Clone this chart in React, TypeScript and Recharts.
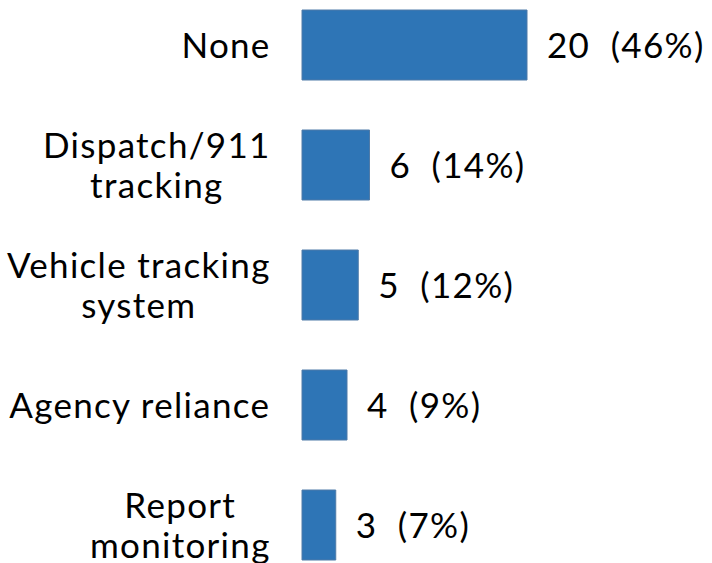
import React from 'react';
import { BarChart, Bar, XAxis, YAxis, LabelList } from 'recharts';

const categories = ['None', 'Dispatch/911\ntracking', 'Vehicle tracking\nsystem', 'Agency reliance', 'Report\nmonitoring'];
const counts = [20, 6, 5, 4, 3];
const percents = ['46%', '14%', '12%', '9%', '7%'];

const data = categories.map((c, i) => ({ name: c, value: counts[i], label: `${counts[i]}  (${percents[i]})` }));

const FONT = 'Lato';
const FS = 35;
const LS = 1.3;
const LINE_H = 40;
const CAP = 12.5;

let ctx: any = null;
function measure(t: string): number {
  if (!ctx) {
    const c = document.createElement('canvas');
    ctx = c.getContext('2d');
  }
  if (!ctx) return t.length * FS * 0.5;
  ctx.font = `${FS}px ${FONT}`;
  const w = ctx.measureText(t).width;
  return w + LS * (t.length - 1);
}

const YTick = (props: any) => {
  const { y, payload } = props;
  const lines: string[] = String(payload.value).split('\n');
  const rightEdge = 270;
  const blockW = Math.max(...lines.map(measure));
  const cx = rightEdge - blockW / 2;
  const first = y - ((lines.length - 1) * LINE_H) / 2 + CAP;
  return (
    <text textAnchor="middle" fontFamily={FONT} fontSize={FS} fill="#000" letterSpacing={LS}>
      {lines.map((l, i) => (
        <tspan key={i} x={cx} y={first + i * LINE_H}>{l}</tspan>
      ))}
    </text>
  );
};

const ValueLabel = (props: any) => {
  const { x, y, width, height, value } = props;
  return (
    <text x={x + width + 20} y={y + height / 2 + CAP} fontFamily={FONT} fontSize={FS} fill="#000" letterSpacing={LS} style={{ whiteSpace: 'pre' }}>
      {value}
    </text>
  );
};

export default function App() {
  return (
    <div style={{ position: 'absolute', left: 0, top: 0, width: 712, height: 563, overflow: 'hidden', background: '#fff' }}>
      <div style={{ position: 'absolute', left: 0, top: -15 }}>
        <BarChart width={712} height={600} data={data} layout="vertical" margin={{ top: 0, right: 5, bottom: 0, left: 0 }} barSize={70}>
          <XAxis type="number" domain={[0, 36]} hide />
          <YAxis type="category" dataKey="name" width={302} axisLine={false} tickLine={false} tick={<YTick />} interval={0} />
          <Bar dataKey="value" fill="#2E75B6" stroke="#4F7BA8" strokeWidth={1} isAnimationActive={false}>
            <LabelList dataKey="label" content={<ValueLabel />} />
          </Bar>
        </BarChart>
      </div>
    </div>
  );
}
